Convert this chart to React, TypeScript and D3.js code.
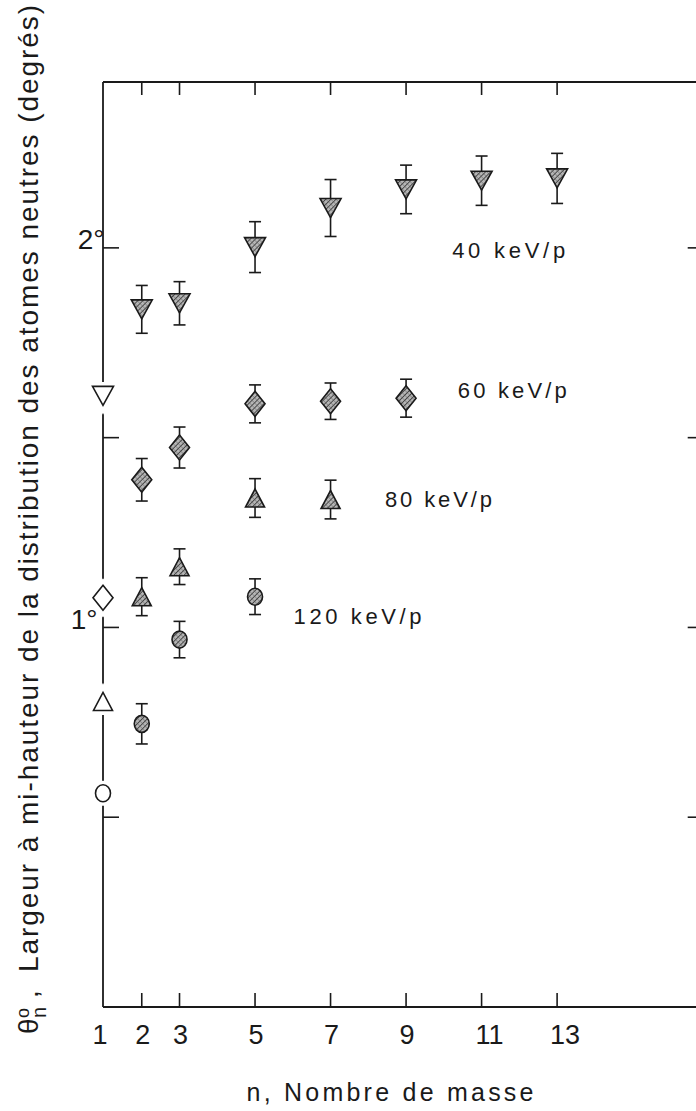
import React from "react";
import * as d3 from "d3";

// ---- data ----
const massTicks = [2, 3, 5, 7, 9, 11, 13];
const massTickLabels = ["1", "2", "3", "5", "7", "9", "11", "13"];
const massLabelValues = [1, 2, 3, 5, 7, 9, 11, 13];
const angleTicks = [0.5, 1, 1.5, 2];
const angleTickLabels = [
  { v: 1, label: "1°" },
  { v: 2, label: "2°" },
];

const n40 = [2, 3, 5, 7, 9, 11, 13];
const w40 = [1.838, 1.854, 2.002, 2.105, 2.154, 2.177, 2.183];
const e40 = [0.063, 0.057, 0.067, 0.075, 0.064, 0.065, 0.066];

const n60 = [2, 3, 5, 7, 9];
const w60 = [1.389, 1.474, 1.589, 1.596, 1.604];
const e60 = [0.056, 0.054, 0.05, 0.048, 0.05];

const n80 = [2, 3, 5, 7];
const w80 = [1.081, 1.16, 1.341, 1.337];
const e80 = [0.05, 0.047, 0.051, 0.051];

const n120 = [2, 3, 5];
const w120 = [0.746, 0.968, 1.081];
const e120 = [0.053, 0.048, 0.047];

// n = 1 (protons), open symbols: 40, 60, 80, 120 keV/p
const protonWidth = [1.61, 1.078, 0.805, 0.563];

const seriesNames = ["40 keV/p", "60 keV/p", "80 keV/p", "120 keV/p"];
// label anchor in data units (n, value)
const labelN = [10.22, 10.37, 8.44, 6.02];
const labelV = [1.974, 1.605, 1.316, 1.008];
const labelLen = [113, 109, 107, 128];

const xTitle = "n, Nombre de masse";
const yTitle = "Largeur à mi-hauteur de la distribution des atomes neutres (degrés)";

// ---- layout ----
const W = 696;
const H = 1111;
const x = d3.scaleLinear().domain([1, 16.75]).range([104, 698.7]);
const y = d3.scaleLinear().domain([0, 2.437]).range([1007, 82]);

const INK = "#1a1a1a";
const FONT = "'Liberation Sans', Arial, Helvetica, sans-serif";

type Shape = "down" | "diamond" | "up" | "circle";
const shapes: Shape[] = ["down", "diamond", "up", "circle"];
const sizes: Record<Shape, [number, number]> = {
  down: [21, 19],
  diamond: [20, 25],
  up: [19, 18],
  circle: [15, 17],
};

function shapePath(s: Shape, cx: number, cy: number): string {
  const [w, h] = sizes[s];
  const p = d3.path();
  if (s === "down") {
    p.moveTo(cx - w / 2, cy - h / 2);
    p.lineTo(cx + w / 2, cy - h / 2);
    p.lineTo(cx, cy + h / 2);
    p.closePath();
  } else if (s === "up") {
    p.moveTo(cx - w / 2, cy + h / 2);
    p.lineTo(cx + w / 2, cy + h / 2);
    p.lineTo(cx, cy - h / 2);
    p.closePath();
  } else {
    p.moveTo(cx, cy - h / 2);
    p.lineTo(cx + w / 2, cy);
    p.lineTo(cx, cy + h / 2);
    p.lineTo(cx - w / 2, cy);
    p.closePath();
  }
  return p.toString();
}

function Marker({ s, cx, cy, open }: { s: Shape; cx: number; cy: number; open?: boolean }) {
  const fill = open ? "#fff" : "url(#hatch)";
  if (s === "circle") {
    const [w, h] = sizes.circle;
    return (
      <g>
        {open && <ellipse cx={cx} cy={cy} rx={w / 2 + 4} ry={h / 2 + 4} fill="#fff" />}
        <ellipse cx={cx} cy={cy} rx={w / 2} ry={h / 2} fill={fill} stroke={INK} strokeWidth={1.6} />
      </g>
    );
  }
  return (
    <g>
      {open && <path d={shapePath(s, cx, cy)} fill="#fff" stroke="#fff" strokeWidth={9} />}
      <path d={shapePath(s, cx, cy)} fill={fill} stroke={INK} strokeWidth={1.6} />
    </g>
  );
}

function ErrorBar({ n, v, e }: { n: number; v: number; e: number }) {
  const cx = x(n);
  const y1 = y(v + e);
  const y2 = y(v - e);
  const cap = 6;
  return (
    <g stroke={INK} strokeWidth={1.6}>
      <line x1={cx} x2={cx} y1={y1} y2={y2} />
      <line x1={cx - cap} x2={cx + cap} y1={y1} y2={y1} />
      <line x1={cx - cap} x2={cx + cap} y1={y2} y2={y2} />
    </g>
  );
}

export default function App() {
  const series = [
    { n: n40, w: w40, e: e40 },
    { n: n60, w: w60, e: e60 },
    { n: n80, w: w80, e: e80 },
    { n: n120, w: w120, e: e120 },
  ];
  const x0 = x(1) - 1;
  const xr = x.range()[1];
  const yTop = y.range()[1];
  const yBot = y.range()[0];

  return (
    <svg
      width={W}
      height={H}
      style={{ position: "absolute", left: 0, top: 0, background: "#fff" }}
      fontFamily={FONT}
    >
      <defs>
        <pattern id="hatch" patternUnits="userSpaceOnUse" width={3.6} height={3.6} patternTransform="rotate(45)">
          <rect width={3.6} height={3.6} fill="#b5b5b5" />
          <line x1={0} y1={0} x2={0} y2={3.6} stroke="#2a2a2a" strokeWidth={1.5} />
          <line x1={0} y1={0} x2={3.6} y2={0} stroke="#555" strokeWidth={0.8} />
        </pattern>
      </defs>
      <rect width={W} height={H} fill="#fff" />

      {/* frame */}
      <g stroke={INK} strokeWidth={1.8} fill="none">
        <line x1={x0} x2={xr + 4} y1={yTop} y2={yTop} />
        <line x1={x0} x2={xr + 4} y1={yBot} y2={yBot} />
        <line x1={x0} x2={x0} y1={yTop} y2={yBot} />
        <line x1={xr} x2={xr} y1={yTop} y2={yBot} />
      </g>

      {/* ticks */}
      <g stroke={INK} strokeWidth={1.6}>
        {massTicks.map((t) => (
          <g key={"t" + t}>
            <line x1={x(t)} x2={x(t)} y1={yTop} y2={yTop + 13} />
            <line x1={x(t)} x2={x(t)} y1={yBot} y2={yBot - 14} />
          </g>
        ))}
        {angleTicks.map((t) => (
          <g key={"a" + t}>
            <line x1={x0} x2={x0 + 16} y1={y(t)} y2={y(t)} />
            <line x1={xr} x2={xr - 11} y1={y(t)} y2={y(t)} />
          </g>
        ))}
      </g>

      {/* tick labels */}
      <g fill={INK} fontSize={27} textAnchor="middle">
        {massLabelValues.map((t, i) => (
          <text key={"l" + t} x={x(t) + (t === 1 ? -4 : t >= 10 ? 8 : 1)} y={1044}>
            {massTickLabels[i]}
          </text>
        ))}
      </g>
      <g fill={INK} fontSize={28} textAnchor="end">
        {angleTickLabels.map((d) => (
          <text key={"yl" + d.v} x={d.v === 2 ? 104.5 : 97.5} y={y(d.v) + 1.5}>
            {d.label}
          </text>
        ))}
      </g>

      {/* series */}
      {series.map((s, si) => (
        <g key={"s" + si}>
          {s.n.map((n, i) => (
            <g key={i}>
              <ErrorBar n={n} v={s.w[i]} e={s.e[i]} />
              <Marker s={shapes[si]} cx={x(n)} cy={y(s.w[i])} />
            </g>
          ))}
        </g>
      ))}

      {/* open symbols at n = 1 */}
      {protonWidth.map((v, i) => (
        <Marker key={"p" + i} s={shapes[i]} cx={x0} cy={y(v)} open />
      ))}

      {/* series labels */}
      <g fill={INK} fontSize={22}>
        {seriesNames.map((name, i) => (
          <text key={name} x={x(labelN[i])} y={y(labelV[i])} textLength={labelLen[i]} lengthAdjust="spacing">
            {name}
          </text>
        ))}
      </g>

      {/* x title */}
      <text x={390} y={1101} fontSize={25} fill={INK} textAnchor="middle" textLength={287} lengthAdjust="spacing">
        {xTitle}
      </text>

      {/* y title */}
      <g transform="translate(38,1034) rotate(-90)" fill={INK}>
        <text x={0} y={0} fontSize={28}>θ</text>
        <text x={16} y={-9} fontSize={18}>o</text>
        <text x={16} y={8} fontSize={20}>n</text>
        <text x={36} y={0} fontSize={28}>,</text>
        <text x={62} y={0} fontSize={28} textLength={967} lengthAdjust="spacing">
          {yTitle}
        </text>
      </g>
    </svg>
  );
}
